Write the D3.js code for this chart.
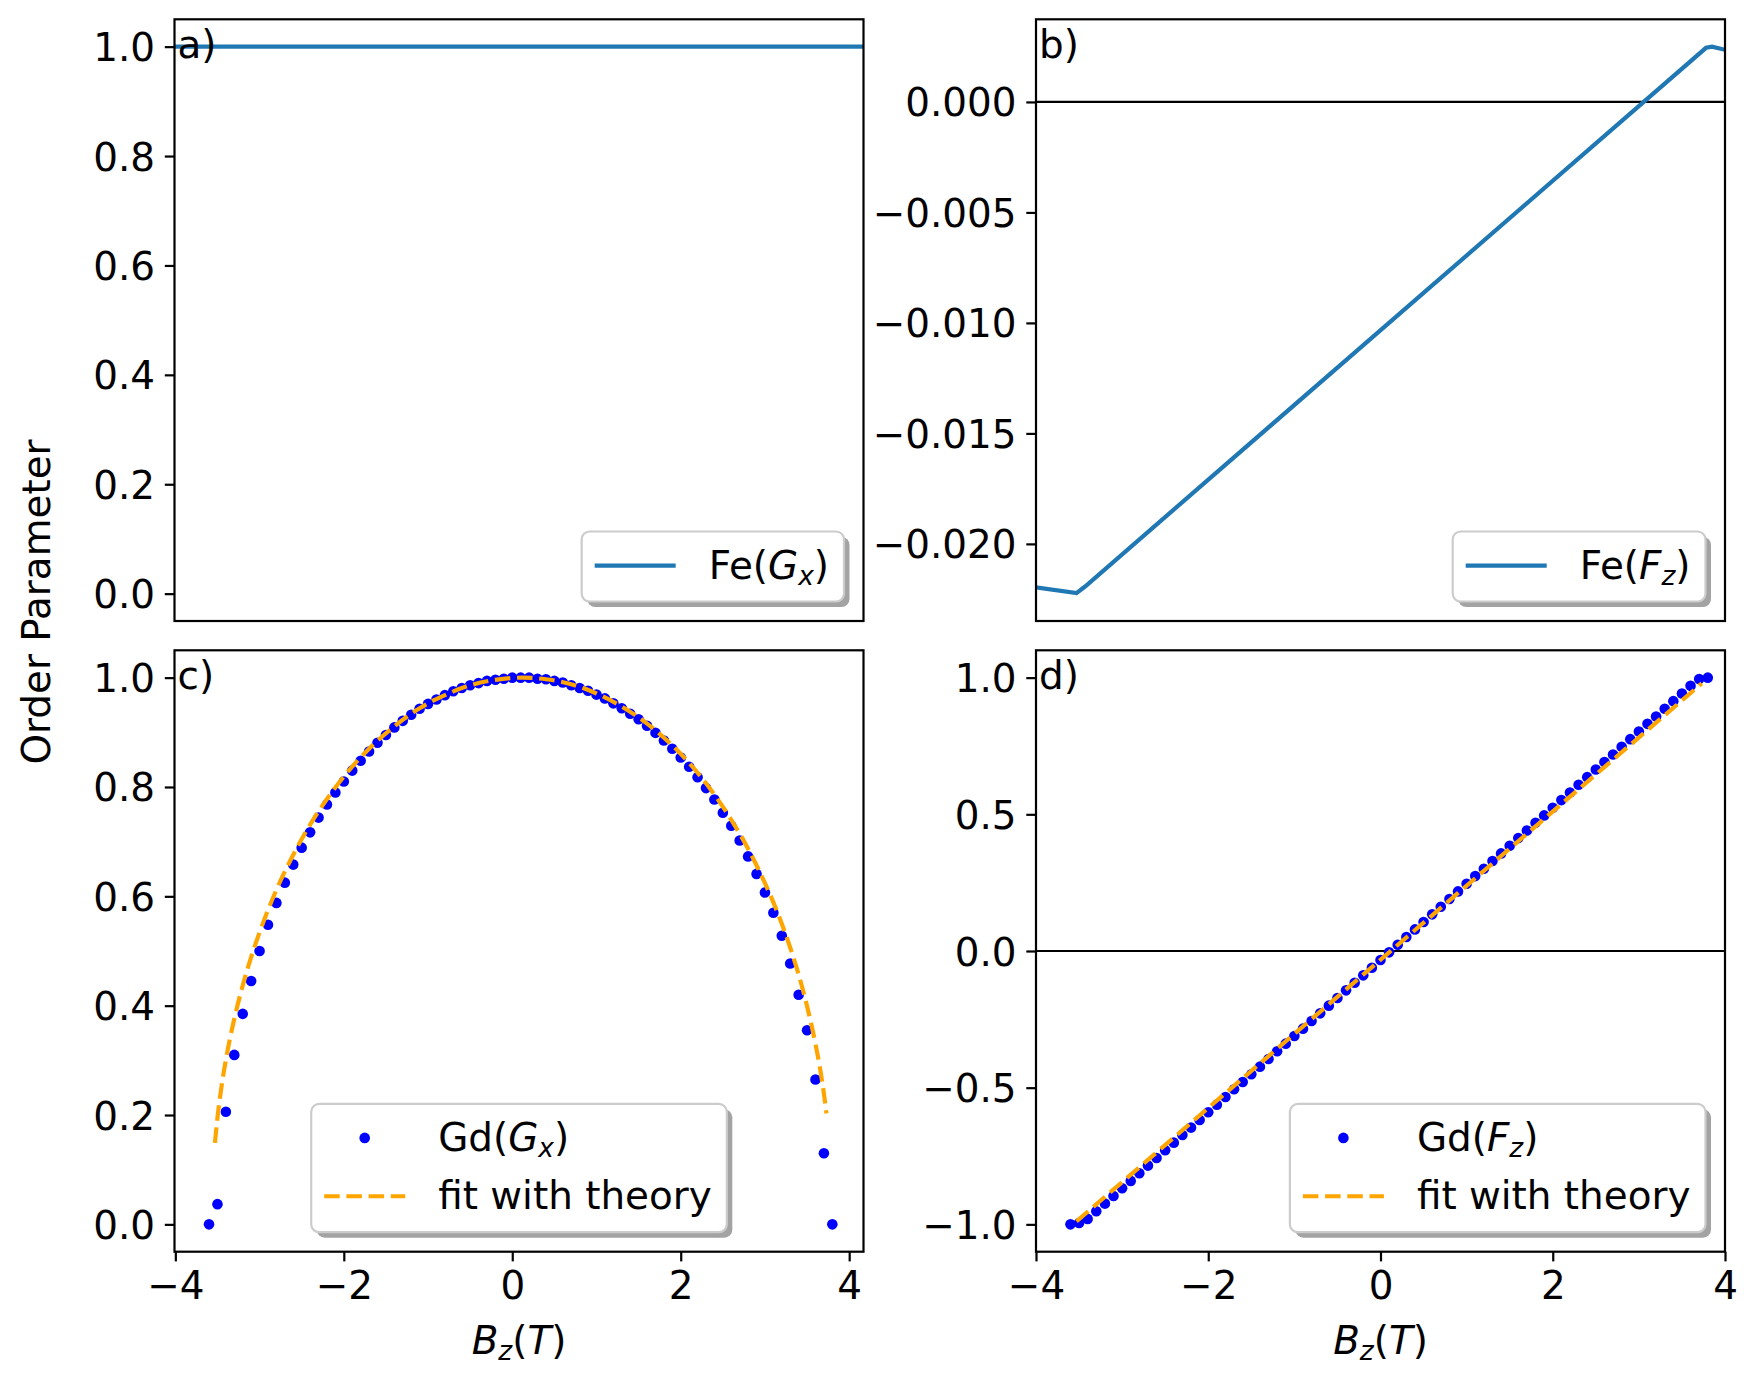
<!DOCTYPE html>
<html>
<head>
<meta charset="utf-8">
<script src="https://cdnjs.cloudflare.com/ajax/libs/d3/7.8.5/d3.min.js"></script>
<style>
body{margin:0;background:#fff;}
svg text{font-family:"DejaVu Sans",sans-serif;}
</style>
</head>
<body>
<svg id="svg"></svg>
<script>
// ---- data ----
var feB   = [-4.3, -3.53, -3.43, 3.78, 3.85, 4.0, 4.3];
var feGx  = [1, 1, 1, 1, 1, 1, 1];
var feFz  = [-0.0218, -0.02223, -0.02193, 0.00245, 0.0025, 0.00236, 0.00208];

var gdB = [-3.6,-3.5,-3.4,-3.3,-3.2,-3.1,-3.0,-2.9,-2.8,-2.7,-2.6,-2.5,-2.4,-2.3,-2.2,-2.1,-2.0,-1.9,-1.8,-1.7,
	-1.6,-1.5,-1.4,-1.3,-1.2,-1.1,-1.0,-0.9,-0.8,-0.7,-0.6,-0.5,-0.4,-0.3,-0.2,-0.1,0.0,0.1,0.2,0.3,
	0.4,0.5,0.6,0.7,0.8,0.9,1.0,1.1,1.2,1.3,1.4,1.5,1.6,1.7,1.8,1.9,2.0,2.1,2.2,2.3,
	2.4,2.5,2.6,2.7,2.8,2.9,3.0,3.1,3.2,3.3,3.4,3.5,3.6,3.7,3.8];

var gdGx = [0.0,0.037,0.206,0.31,0.385,0.445,0.50,0.548,0.588,0.625,0.658,0.689,0.717,0.744,0.768,0.790,0.810,0.830,0.848,0.865,
	0.881,0.895,0.909,0.921,0.932,0.943,0.952,0.960,0.968,0.975,0.981,0.986,0.990,0.994,0.996,0.998,1.0,1.0,1.0,0.998,
	0.997,0.994,0.991,0.986,0.981,0.976,0.969,0.962,0.953,0.944,0.934,0.924,0.912,0.899,0.885,0.870,0.854,0.837,0.818,0.798,
	0.777,0.753,0.729,0.702,0.673,0.641,0.607,0.570,0.528,0.477,0.420,0.355,0.265,0.130,0.0];

var gdFz = [-1.0,-0.995,-0.980,-0.952,-0.924,-0.896,-0.868,-0.841,-0.813,-0.785,-0.757,-0.729,-0.701,-0.673,-0.646,-0.618,-0.590,-0.562,-0.534,-0.506,
	-0.479,-0.451,-0.423,-0.395,-0.367,-0.339,-0.311,-0.284,-0.256,-0.228,-0.200,-0.172,-0.144,-0.116,-0.089,-0.061,-0.033,-0.005,0.023,0.051,
	0.079,0.106,0.134,0.162,0.190,0.218,0.246,0.274,0.301,0.329,0.357,0.385,0.413,0.441,0.469,0.496,0.524,0.552,0.580,0.608,
	0.636,0.664,0.691,0.719,0.747,0.775,0.803,0.831,0.858,0.886,0.914,0.942,0.970,0.995,1.0];

var fitB  = [-3.53,-3.5,-3.45,-3.4,-3.3,-3.2,-3.1,-3.0,-2.8,-2.6,-2.4,-2.2,-2.0,-1.7,-1.4,-1.1,-0.8,-0.5,-0.2,0.118,
	0.4,0.7,1.0,1.3,1.6,1.9,2.2,2.4,2.6,2.8,3.0,3.1,3.2,3.3,3.4,3.5,3.6,3.65,3.7,3.73];
var fitGx = [0.149,0.195,0.254,0.301,0.376,0.437,0.489,0.534,0.612,0.676,0.731,0.778,0.819,0.870,0.911,0.944,0.968,0.986,0.996,1.0,
	0.997,0.988,0.971,0.947,0.916,0.876,0.826,0.786,0.740,0.687,0.624,0.589,0.550,0.506,0.457,0.399,0.330,0.289,0.239,0.203];
var fitFzB = [-3.53, 3.73];
var fitFz  = [-0.989, 0.979];

var xTicks   = [-4, -2, 0, 2, 4];
var gxTicks  = [0, 0.2, 0.4, 0.6, 0.8, 1.0];
var fzTicks  = [0, -0.005, -0.010, -0.015, -0.020];
var gdFzTicks = [-1.0, -0.5, 0, 0.5, 1.0];

// ---- layout ----
var W = 1757, H = 1382, FS = 38.9, LW = 2.2;

var svg = d3.select("#svg").attr("width", W).attr("height", H);

var cols = [{x0:174.5, x1:863.5}, {x0:1036, x1:1725}];
var rows = [{y0:19.3, y1:621}, {y0:650.3, y1:1251.7}];

function fmt(d, n){
	return d3.format("." + n + "f")(d).replace("-", "\u2212");
}

// parts: [text, italic, subscript]
function richText(sel, parts){
	var shift = 0;
	parts.forEach(function(p){
		var t = sel.append("tspan").text(p[0]);
		if (p[1]) t.style("font-style", "italic");
		var want = p[2] ? 6 : 0;
		if (want !== shift){ t.attr("dy", want - shift); shift = want; }
		if (p[2]) t.style("font-size", (FS * 0.68) + "px");
	});
}

function panel(o){
	var c = cols[o.col], r = rows[o.row];
	var x = d3.scaleLinear().domain(o.xdom).range([c.x0, c.x1]);
	var y = d3.scaleLinear().domain(o.ydom).range([r.y1, r.y0]);
	var g = svg.append("g");

	svg.append("clipPath").attr("id", "clip" + o.name)
		.append("rect")
		.attr("x", c.x0).attr("y", r.y0)
		.attr("width", c.x1 - c.x0).attr("height", r.y1 - r.y0);

	var plot = g.append("g").attr("clip-path", "url(#clip" + o.name + ")");

	var ya = g.append("g")
		.attr("transform", "translate(" + c.x0 + ",0)")
		.call(d3.axisLeft(y).tickValues(o.yticks)
			.tickFormat(function(d){ return fmt(d, o.dec); })
			.tickSize(9.7).tickPadding(9.7));
	styleAxis(ya);
	ya.selectAll("text").attr("dy", "0.36em");

	if (o.xaxis){
		var xa = g.append("g")
			.attr("transform", "translate(0," + r.y1 + ")")
			.call(d3.axisBottom(x).tickValues(xTicks)
				.tickFormat(function(d){ return fmt(d, 0); })
				.tickSize(9.7).tickPadding(9.7));
		styleAxis(xa);

		var xl = g.append("text")
			.attr("x", (c.x0 + c.x1) / 2).attr("y", 1354)
			.attr("text-anchor", "middle")
			.style("font-size", FS + "px");
		richText(xl, [["B",1,0],["z",1,1],["(",0,0],["T",1,0],[")",0,0]]);
	}

	g.append("text")
		.attr("x", c.x0 + 3).attr("y", r.y0 + 39)
		.style("font-size", FS + "px")
		.text(o.name + ")");

	return {x:x, y:y, g:g, plot:plot, c:c, r:r};
}

function styleAxis(a){
	a.select(".domain").remove();
	a.selectAll("line").attr("stroke", "#000").attr("stroke-width", LW);
	a.selectAll("text").attr("fill", "#000").style("font-size", FS + "px")
		.style("font-family", "DejaVu Sans");
}

function spines(p){
	p.g.append("rect")
		.attr("x", p.c.x0).attr("y", p.r.y0)
		.attr("width", p.c.x1 - p.c.x0).attr("height", p.r.y1 - p.r.y0)
		.attr("fill", "none").attr("stroke", "#000").attr("stroke-width", LW);
}

function zeroLine(p){
	p.plot.append("line")
		.attr("x1", p.c.x0).attr("x2", p.c.x1)
		.attr("y1", p.y(0)).attr("y2", p.y(0))
		.attr("stroke", "#000").attr("stroke-width", LW);
}

function drawLine(p, xs, ys, color, dashed, curve){
	var pts = xs.map(function(d, i){ return [d, ys[i]]; });
	var line = d3.line()
		.x(function(d){ return p.x(d[0]); })
		.y(function(d){ return p.y(d[1]); });
	if (curve) line.curve(d3.curveMonotoneX);
	p.plot.append("path")
		.datum(pts)
		.attr("d", line)
		.attr("fill", "none")
		.attr("stroke", color)
		.attr("stroke-width", 4.2)
		.attr("stroke-dasharray", dashed ? "15.5,6.7" : null);
}

function drawDots(p, xs, ys){
	p.plot.selectAll("circle.dot")
		.data(xs.map(function(d, i){ return [d, ys[i]]; }))
		.enter()
		.append("circle")
		.attr("class", "dot")
		.attr("cx", function(d){ return p.x(d[0]); })
		.attr("cy", function(d){ return p.y(d[1]); })
		.attr("r", 5.3)
		.attr("fill", "#0000ff");
}

// items: {type:'line'|'dash'|'dot', color, parts}
function legend(p, items, loc){
	var lg = p.g.append("g");
	var shadow = lg.append("rect"), box = lg.append("rect");
	var texts = items.map(function(it){
		var t = lg.append("text").style("font-size", FS + "px");
		richText(t, it.parts);
		return t;
	});
	var tw = d3.max(texts, function(t){ return t.node().getComputedTextLength(); });
	var w = 13 + 81 + 33 + tw + 15;
	var h = 2 * 15.56 + items.length * FS + (items.length - 1) * 19.45;
	var left = loc === "center" ? (p.c.x0 + p.c.x1) / 2 - w / 2 : p.c.x1 - 19.5 - w;
	var top = p.r.y1 - 19.5 - h;

	shadow.attr("x", left + 5.5).attr("y", top + 5.5).attr("width", w).attr("height", h)
		.attr("rx", 8).attr("fill", "#a3a3a3");
	box.attr("x", left).attr("y", top).attr("width", w).attr("height", h)
		.attr("rx", 8).attr("fill", "#fff").attr("stroke", "#cccccc").attr("stroke-width", LW);

	items.forEach(function(it, i){
		var rowTop = top + 15.56 + i * (FS + 19.45);
		var cy = rowTop + 18.5;
		if (it.type === "dot"){
			lg.append("circle").attr("cx", left + 13 + 40.5).attr("cy", cy)
				.attr("r", 5.3).attr("fill", it.color);
		} else {
			lg.append("line").attr("x1", left + 13).attr("x2", left + 94)
				.attr("y1", cy).attr("y2", cy)
				.attr("stroke", it.color).attr("stroke-width", 4.2)
				.attr("stroke-dasharray", it.type === "dash" ? "15.5,6.7" : null);
		}
		texts[i].attr("x", left + 127).attr("y", rowTop + 31.5);
	});
}

// ---- panels ----
var pa = panel({name:"a", col:0, row:0, xdom:[-4.01, 4.17], ydom:[-0.05, 1.05], yticks:gxTicks, dec:1});
drawLine(pa, feB, feGx, "#1f77b4");
spines(pa);
legend(pa, [{type:"line", color:"#1f77b4", parts:[["Fe(",0,0],["G",1,0],["x",1,1],[")",0,0]]}], "right");

var pb = panel({name:"b", col:1, row:0, xdom:[-4, 4], ydom:[-0.02349, 0.00374], yticks:fzTicks, dec:3});
zeroLine(pb);
drawLine(pb, feB, feFz, "#1f77b4");
spines(pb);
legend(pb, [{type:"line", color:"#1f77b4", parts:[["Fe(",0,0],["F",1,0],["z",1,1],[")",0,0]]}], "right");

var pc = panel({name:"c", col:0, row:1, xdom:[-4.01, 4.17], ydom:[-0.05, 1.05], yticks:gxTicks, dec:1, xaxis:true});
drawDots(pc, gdB, gdGx);
drawLine(pc, fitB, fitGx, "orange", true, true);
spines(pc);
legend(pc, [
	{type:"dot", color:"#0000ff", parts:[["Gd(",0,0],["G",1,0],["x",1,1],[")",0,0]]},
	{type:"dash", color:"orange", parts:[["fit with theory",0,0]]}
], "center");

var pd = panel({name:"d", col:1, row:1, xdom:[-4, 4], ydom:[-1.1, 1.1], yticks:gdFzTicks, dec:1, xaxis:true});
zeroLine(pd);
drawDots(pd, gdB, gdFz);
drawLine(pd, fitFzB, fitFz, "orange", true);
spines(pd);
legend(pd, [
	{type:"dot", color:"#0000ff", parts:[["Gd(",0,0],["F",1,0],["z",1,1],[")",0,0]]},
	{type:"dash", color:"orange", parts:[["fit with theory",0,0]]}
], "right");

// shared y label
svg.append("text")
	.attr("transform", "translate(49.5,602) rotate(-90)")
	.attr("text-anchor", "middle")
	.style("font-size", FS + "px")
	.text("Order Parameter");
</script>
</body>
</html>
